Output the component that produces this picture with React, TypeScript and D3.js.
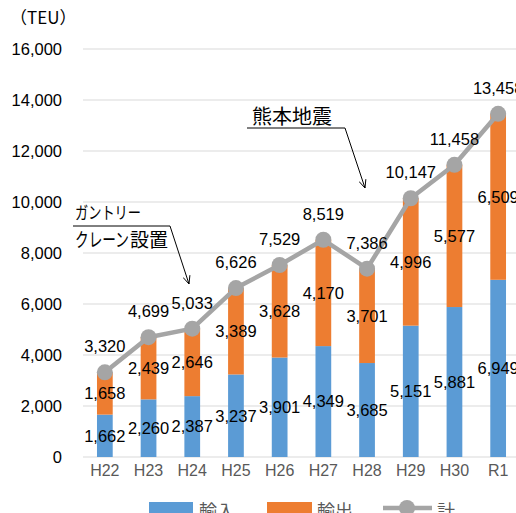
import React from 'react';
import * as d3 from 'd3';

const categories = ['H22', 'H23', 'H24', 'H25', 'H26', 'H27', 'H28', 'H29', 'H30', 'R1'];
const imports = [1662, 2260, 2387, 3237, 3901, 4349, 3685, 5151, 5881, 6949];
const exports = [1658, 2439, 2646, 3389, 3628, 4170, 3701, 4996, 5577, 6509];
const totals = [3320, 4699, 5033, 6626, 7529, 8519, 7386, 10147, 11458, 13458];
const yTicks = [0, 2000, 4000, 6000, 8000, 10000, 12000, 14000, 16000];

const W = 516;
const H = 513;
const BLUE = '#5B9BD5';
const ORANGE = '#ED7D31';
const GRAY = '#A5A5A5';
const NUM_FONT = '"Liberation Sans", Arial, sans-serif';
const JP_FONT = '"Noto Sans CJK JP", sans-serif';
const NUM_SIZE = 16.5;

const fmt = d3.format(',');

const App = () => {
  const x = d3.scaleBand<string>()
    .domain(categories)
    .range([83, 520])
    .paddingInner(0.64)
    .paddingOuter(0.32);
  const y = d3.scaleLinear().domain([0, 16000]).range([457, 49]);
  const bw = x.bandwidth();
  const cx = (c: string) => (x(c) as number) + bw / 2;

  const line = d3.line<number>()
    .x((d, i) => cx(categories[i]))
    .y(d => y(d));

  return (
    <svg width={W} height={H} style={{ position: 'absolute', left: 0, top: 0, background: '#fff' }}>
      <defs>
        <marker id="arr" viewBox="0 0 10 10" refX="9" refY="5" markerWidth="9" markerHeight="9" orient="auto" markerUnits="userSpaceOnUse">
          <path d="M0,1 L9,5 L0,9" fill="none" stroke="#000" strokeWidth="1" />
        </marker>
      </defs>
      {/* grid + y ticks */}
      {yTicks.map(t => (
        <g key={t}>
          <line x1={83} x2={520} y1={y(t)} y2={y(t)} stroke="#D9D9D9" strokeWidth={1} />
          <text x={62} y={y(t)} dy="0.35em" textAnchor="end" fontFamily={NUM_FONT} fontSize={NUM_SIZE} fill="#000">{fmt(t)}</text>
        </g>
      ))}
      <text x={10} y={24} fontFamily={JP_FONT} fontSize={17} fill="#000">（TEU）</text>

      {/* stacked bars */}
      {categories.map((c, i) => (
        <g key={c}>
          <rect x={x(c)} width={bw} y={y(imports[i])} height={y(0) - y(imports[i])} fill={BLUE} />
          <rect x={x(c)} width={bw} y={y(imports[i] + exports[i])} height={y(0) - y(exports[i])} fill={ORANGE} />
        </g>
      ))}

      {/* total line */}
      <path d={line(totals) || ''} fill="none" stroke={GRAY} strokeWidth={4.5} strokeLinejoin="round" />
      {totals.map((v, i) => (
        <circle key={i} cx={cx(categories[i])} cy={y(v)} r={8} fill={GRAY} />
      ))}

      {/* data labels */}
      {categories.map((c, i) => (
        <g key={c} fontFamily={NUM_FONT} fontSize={NUM_SIZE} fill="#000" textAnchor="middle">
          <text x={cx(c)} y={y(imports[i] / 2)} dy="0.35em">{fmt(imports[i])}</text>
          <text x={cx(c)} y={y(imports[i] + exports[i] / 2)} dy="0.35em">{fmt(exports[i])}</text>
          <text x={cx(c)} y={y(totals[i]) - 20}>{fmt(totals[i])}</text>
        </g>
      ))}

      {/* x labels */}
      {categories.map(c => (
        <text key={c} x={cx(c)} y={476} textAnchor="middle" fontFamily={NUM_FONT} fontSize={16} fill="#595959">{c}</text>
      ))}

      {/* annotations */}
      <text x={75} y={219} fontFamily={JP_FONT} fontSize={17} fill="#000" textLength={66} lengthAdjust="spacingAndGlyphs">ガントリー</text>
      <text x={75} y={247} fontFamily={JP_FONT} fontSize={19} fill="#000" textLength={54} lengthAdjust="spacingAndGlyphs">クレーン</text>
      <text x={130} y={247} fontFamily={JP_FONT} fontSize={19} fill="#000">設置</text>
      <polyline points="73,226 170,226 189,284" fill="none" stroke="#000" strokeWidth={1} markerEnd="url(#arr)" />

      <text x={252} y={124} fontFamily={JP_FONT} fontSize={20} fill="#000">熊本地震</text>
      <polyline points="247,128 345,128 365,188" fill="none" stroke="#000" strokeWidth={1} markerEnd="url(#arr)" />

      {/* legend */}
      <rect x={149} y={502} width={44} height={12} fill={BLUE} />
      <text x={199} y={518} fontFamily={JP_FONT} fontSize={18} fill="#595959">輸入</text>
      <rect x={267} y={502} width={45} height={12} fill={ORANGE} />
      <text x={317} y={518} fontFamily={JP_FONT} fontSize={18} fill="#595959">輸出</text>
      <line x1={383} x2={432} y1={508} y2={508} stroke={GRAY} strokeWidth={4.5} />
      <circle cx={407} cy={508} r={8} fill={GRAY} />
      <text x={437} y={518} fontFamily={JP_FONT} fontSize={18} fill="#595959">計</text>
    </svg>
  );
};

export default App;
